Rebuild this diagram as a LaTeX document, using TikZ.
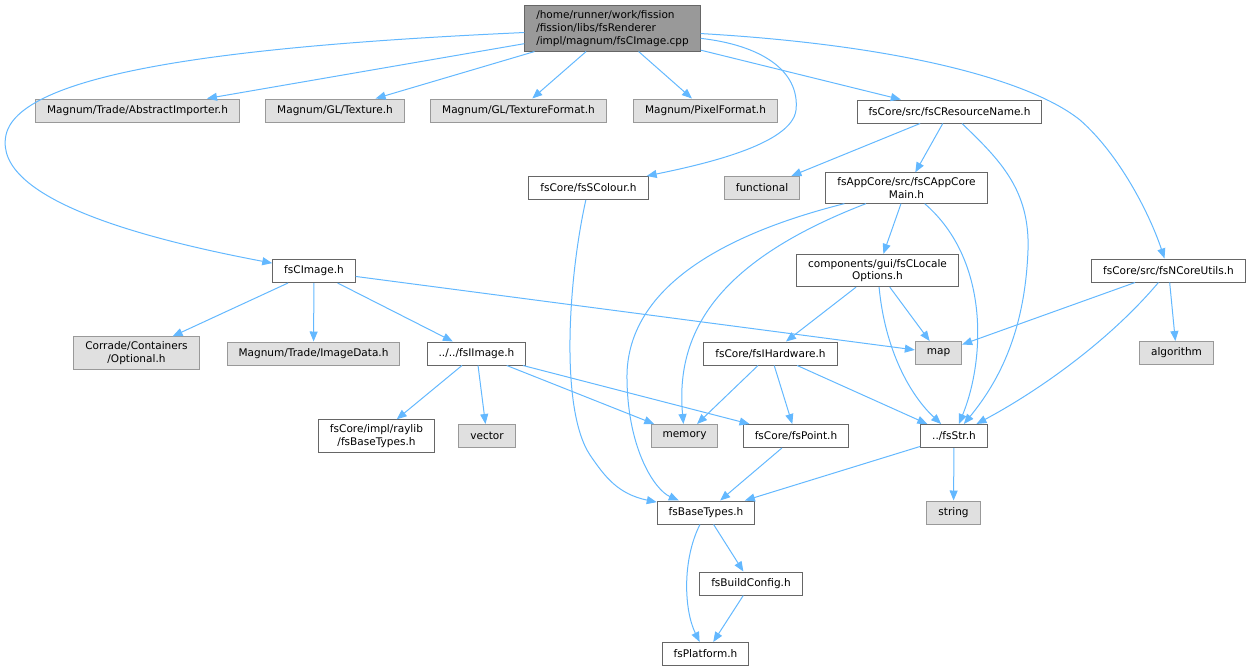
\documentclass[tikz,border=0pt]{standalone}
\usepackage{fontspec}
\setmainfont{DejaVu Sans}
\usepackage{tikz}
\usetikzlibrary{arrows.meta}

\definecolor{edgeblue}{HTML}{63B8FF}
\definecolor{boxline}{HTML}{666666}
\definecolor{sysline}{HTML}{999999}
\definecolor{sysfill}{HTML}{E0E0E0}
\definecolor{rootfill}{HTML}{999999}

\tikzset{
  hdr/.style={draw=boxline, fill=white, line width=0.75bp, inner xsep=8.6bp, inner ysep=3.5bp,
    minimum height=17.25bp, font=\fontsize{7.9bp}{9.6bp}\selectfont, align=center},
  syshdr/.style={hdr, draw=sysline, fill=sysfill},
  srcfile/.style={hdr, fill=rootfill, align=left},
  inc/.style={draw=edgeblue, line width=0.75bp, -{Triangle[length=7.5bp,width=6bp]}}
}

\begin{document}
\begin{tikzpicture}[x=0.75bp,y=-0.75bp]
\useasboundingbox (0,0) rectangle (1253,671);

\node[srcfile] (cpp) at (612.5,28.5) {/home/runner/work/fission\\/fission/libs/fsRenderer\\/impl/magnum/fsCImage.cpp};

\node[syshdr] (importer) at (137.5,110.5) {Magnum/Trade/AbstractImporter.h};
\node[syshdr] (texture) at (335,110.5) {Magnum/GL/Texture.h};
\node[syshdr] (texfmt) at (518.5,110.5) {Magnum/GL/TextureFormat.h};
\node[syshdr] (pixfmt) at (705.5,110.5) {Magnum/PixelFormat.h};
\node[hdr] (resname) at (949.5,111.5) {fsCore/src/fsCResourceName.h};

\node[hdr] (colour) at (588.5,188) {fsCore/fsSColour.h};
\node[syshdr] (functional) at (762,188) {functional};
\node[hdr] (appcore) at (906.5,188) {fsAppCore/src/fsCAppCore\\Main.h};

\node[hdr] (cimage) at (314,271) {fsCImage.h};
\node[hdr] (locale) at (877.5,270.5) {components/gui/fsCLocale\\Options.h};
\node[hdr] (coreutils) at (1168.5,270.5) {fsCore/src/fsNCoreUtils.h};

\node[syshdr] (optional) at (136.5,353) {Corrade/Containers\\/Optional.h};
\node[syshdr] (imagedata) at (313.5,353.5) {Magnum/Trade/ImageData.h};
\node[hdr] (iimage) at (476.5,353.5) {../../fsIImage.h};
\node[hdr] (hardware) at (770.5,353.5) {fsCore/fsIHardware.h};
\node[syshdr] (map) at (938.5,353) {map};
\node[syshdr] (algorithm) at (1176.5,353) {algorithm};

\node[hdr] (raylibtypes) at (376.5,436) {fsCore/impl/raylib\\/fsBaseTypes.h};
\node[syshdr] (vector) at (487,436) {vector};
\node[syshdr] (memory) at (684.5,436) {memory};
\node[hdr] (point) at (796,436) {fsCore/fsPoint.h};
\node[hdr] (str) at (954,436) {../fsStr.h};

\node[hdr] (basetypes) at (706,512.5) {fsBaseTypes.h};
\node[syshdr] (string) at (953.5,512.5) {string};
\node[hdr] (buildcfg) at (751,583.5) {fsBuildConfig.h};
\node[hdr] (platform) at (705.5,654) {fsPlatform.h};

% includes of the .cpp
\draw[inc] (cpp) .. controls (250,45) and (20,70) .. (6,135) .. controls (-8,200) and (150,240) .. (cimage);
\draw[inc] (cpp) -- (importer);
\draw[inc] (cpp) -- (texture);
\draw[inc] (cpp) -- (texfmt);
\draw[inc] (cpp) -- (pixfmt);
\draw[inc] (cpp) .. controls (760,45) and (800,70) .. (796,110) .. controls (792,145) and (700,165) .. (colour);
\draw[inc] (cpp) -- (resname);
\draw[inc] (cpp) .. controls (900,45) and (1030,80) .. (1080,120) .. controls (1120,155) and (1150,215) .. (coreutils);

\draw[inc] (cimage) -- (optional);
\draw[inc] (cimage) -- (imagedata);
\draw[inc] (cimage) -- (iimage);
\draw[inc] (cimage) -- (map);
\draw[inc] (iimage) -- (raylibtypes);
\draw[inc] (iimage) -- (vector);
\draw[inc] (iimage) -- (memory);
\draw[inc] (iimage) -- (point);

\draw[inc] (resname) -- (functional);
\draw[inc] (resname) -- (appcore);
\draw[inc] (resname) .. controls (1000,160) and (1030,190) .. (1028,250) .. controls (1025,330) and (1000,380) .. (str);
\draw[inc] (colour) .. controls (568,280) and (560,410) .. (590,455) .. controls (605,477) and (618,494) .. (basetypes);

\draw[inc] (appcore) -- (locale);
\draw[inc] (appcore) .. controls (720,260) and (675,330) .. (memory);
\draw[inc] (appcore) .. controls (700,240) and (625,300) .. (627,380) .. controls (628,450) and (655,490) .. (basetypes);
\draw[inc] (appcore) .. controls (990,260) and (985,360) .. (str);
\draw[inc] (locale) -- (hardware);
\draw[inc] (locale) -- (map);
\draw[inc] (locale) .. controls (885,350) and (910,395) .. (str);
\draw[inc] (coreutils) -- (map);
\draw[inc] (coreutils) -- (algorithm);
\draw[inc] (coreutils) .. controls (1110,340) and (1040,390) .. (str);

\draw[inc] (hardware) -- (memory);
\draw[inc] (hardware) -- (point);
\draw[inc] (hardware) -- (str);
\draw[inc] (point) -- (basetypes);
\draw[inc] (str) -- (basetypes);
\draw[inc] (str) -- (string);
\draw[inc] (basetypes) -- (buildcfg);
\draw[inc] (basetypes) .. controls (682,560) and (684,610) .. (platform);
\draw[inc] (buildcfg) -- (platform);
\end{tikzpicture}
\end{document}
